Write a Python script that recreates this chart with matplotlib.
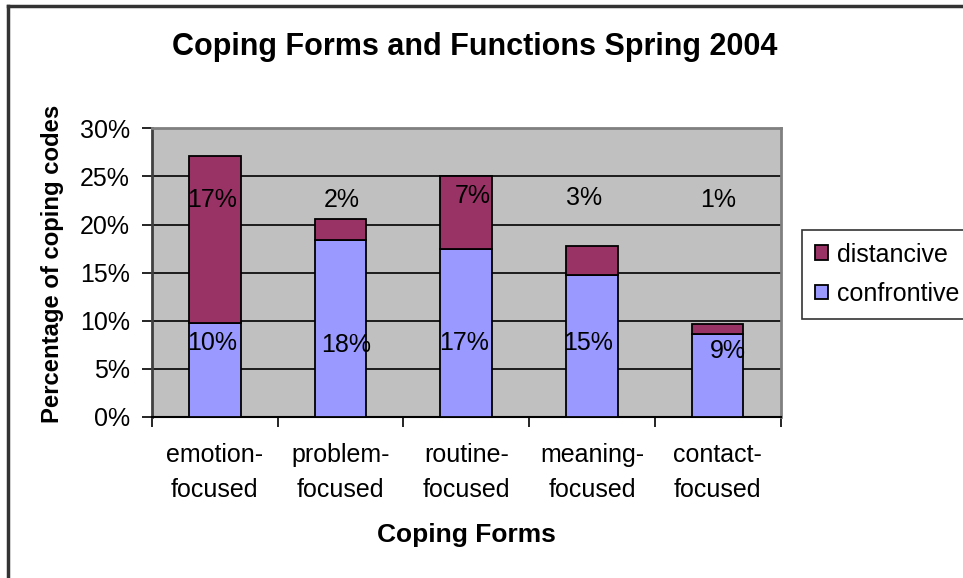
import numpy as np
import matplotlib
matplotlib.use('Agg')
import matplotlib.pyplot as plt
from matplotlib.ticker import PercentFormatter

plt.rcParams['font.family'] = ['Liberation Sans', 'DejaVu Sans']

# data (percent of coping codes)
categories = ['emotion-\nfocused', 'problem-\nfocused', 'routine-\nfocused',
              'meaning-\nfocused', 'contact-\nfocused']
confrontive = [9.8, 18.4, 17.5, 14.8, 8.6]
distancive = [17.3, 2.2, 7.5, 3.0, 1.1]
confrontive_labels = ['10%', '18%', '17%', '15%', '9%']
distancive_labels = ['17%', '2%', '7%', '3%', '1%']

# where Excel left the data labels (they don't sit on the segments)
top_lab_y = [22.5, 22.5, 23.0, 22.8, 22.6]
top_lab_dx = [-0.02, 0.01, 0.05, -0.06, 0.0]
bot_lab_y = [7.7, 7.5, 7.7, 7.7, 6.85]
bot_lab_dx = [-0.025, 0.045, -0.02, -0.03, 0.085]

c_conf = '#9999FF'
c_dist = '#993366'
fs = 18

fig = plt.figure(figsize=(9.63, 5.78), dpi=100)
ax = fig.add_axes([152/963, 1-417/578, (780.5-152)/963, (417-128.3)/578])

x = np.arange(len(categories))
w = 0.41
ax.bar(x, confrontive, w, color=c_conf, edgecolor='black', linewidth=1.3,
       label='confrontive', zorder=3)
ax.bar(x, distancive, w, bottom=confrontive, color=c_dist, edgecolor='black',
       linewidth=1.3, label='distancive', zorder=3)

for i in range(len(x)):
    ax.text(x[i] + top_lab_dx[i], top_lab_y[i], distancive_labels[i],
            ha='center', va='center', fontsize=fs, zorder=4)
    ax.text(x[i] + bot_lab_dx[i], bot_lab_y[i], confrontive_labels[i],
            ha='center', va='center', fontsize=fs, zorder=4)

ax.set_xlim(-0.5, len(x) - 0.5)
ax.set_ylim(0, 30)
ax.set_facecolor('#C0C0C0')
ax.set_yticks(np.arange(0, 31, 5))
ax.yaxis.set_major_formatter(PercentFormatter(decimals=0))
ax.grid(axis='y', color='black', linewidth=1.2, zorder=1)
ax.set_axisbelow(True)

# category ticks between groups, labels at centres
ax.set_xticks(np.arange(-0.5, len(x), 1.0))
ax.set_xticklabels([])
ax.set_xticks(x, minor=True)
ax.set_xticklabels(categories, minor=True, fontsize=fs, linespacing=1.55)
ax.tick_params(axis='x', which='minor', length=0, pad=19)
ax.tick_params(axis='x', which='major', length=7, width=1.2, direction='out')
ax.tick_params(axis='y', length=7, width=1.2, labelsize=fs, pad=9)

for s in ['top', 'right']:
    ax.spines[s].set_color('#808080')
    ax.spines[s].set_linewidth(2)
ax.spines['left'].set_color('#404040')
ax.spines['left'].set_linewidth(2)
ax.spines['bottom'].set_color('black')
ax.spines['bottom'].set_linewidth(1.5)

ax.set_xlabel('Coping Forms', fontsize=19, fontweight='bold', va='center')
ax.xaxis.set_label_coords((466-152)/628.5, (417-535)/288.7)
ax.set_ylabel('Percentage of coping codes', fontsize=17.2, fontweight='bold', va='center')
ax.yaxis.set_label_coords((52-152)/628.5, (417-264)/288.7)
fig.text(475/963, 1-47/578, 'Coping Forms and Functions Spring 2004',
         ha='center', va='center', fontsize=22, fontweight='bold')

h, l = ax.get_legend_handles_labels()
leg = fig.legend(h[::-1], l[::-1], loc='upper left',
                 bbox_to_anchor=(802/963, 1-230/578), fontsize=fs,
                 frameon=True, fancybox=False, edgecolor='black',
                 handlelength=0.52, handleheight=0.52, handletextpad=0.36,
                 borderpad=0.5, labelspacing=0.62, borderaxespad=0)
leg.get_frame().set_linewidth(1.2)

# outer chart border (only top and left visible in the original)
fig.add_artist(plt.Line2D([8/963, 1], [1-6/578, 1-6/578], color='#333333', lw=2.5))
fig.add_artist(plt.Line2D([8/963, 8/963], [0, 1-6/578], color='#333333', lw=2.5))

fig.savefig('out.png', dpi=100)
